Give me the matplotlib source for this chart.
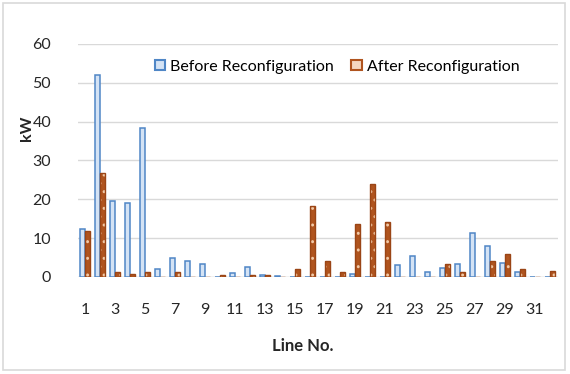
import matplotlib
matplotlib.use("Agg")
import matplotlib.pyplot as plt
import numpy as np
from matplotlib.patches import Rectangle, Patch

lines = list(range(1, 33))
before = [12.3, 52.0, 19.6, 19.0, 38.4, 2.0, 4.8, 4.0, 3.4, 0.0,
          1.1, 2.5, 0.5, 0.3, 0.0, 0.0, 0.0, 0.0, 0.7, 0.0,
          0.0, 3.2, 5.4, 1.4, 2.4, 3.3, 11.4, 8.0, 3.7, 1.4,
          0.0, 0.0]
after = [11.9, 26.8, 1.2, 0.9, 1.4, 0.0, 1.4, 0.0, 0.0, 0.6,
         0.0, 0.5, 0.5, 0.0, 2.0, 18.4, 4.0, 1.4, 13.6, 24.0,
         14.1, 0.0, 0.0, 0.0, 3.3, 1.2, 0.0, 4.0, 5.8, 2.0,
         0.0, 1.6]
xticklabels = [str(i) for i in range(1, 33, 2)]
yticks = [0, 10, 20, 30, 40, 50, 60]

plt.rcParams['font.family'] = ['Lato', 'DejaVu Sans']

W, H = 570, 374
fig = plt.figure(figsize=(W/100, H/100), dpi=100)
fig.patches.append(Rectangle((3/W, 4/H), 562/W, 367/H, transform=fig.transFigure,
                             fill=False, edgecolor='#D9D9D9', linewidth=1.2))
ax = fig.add_axes([77.5/W, 1-277/H, 480/W, 233/H])

x = np.array(lines, dtype=float)
bw = 0.3
blue_edge = '#4F86C6'
blue_face = '#D4E3F5'
brown = '#B0541E'
ax.bar(x - 0.17, before, width=bw, facecolor=blue_face, edgecolor=blue_edge,
       linewidth=1.1, zorder=3)
ax.bar(x + 0.17, after, width=bw, facecolor=brown, edgecolor='#F2C9A6',
       hatch='..', linewidth=0, zorder=3)
ax.bar(x + 0.17, after, width=bw, facecolor='none', edgecolor='#9A4516',
       linewidth=1.0, zorder=4)

h1 = Patch(facecolor=blue_face, edgecolor=blue_edge, linewidth=1.5)
h2 = Patch(facecolor='#F5D7C0', edgecolor='#B0541E', linewidth=1.5)
ax.legend([h1, h2], ['Before Reconfiguration', 'After Reconfiguration'],
          loc='upper left', bbox_to_anchor=(0.148, 0.96), ncol=2, frameon=False,
          fontsize=11.5, handlelength=0.65, handleheight=0.65, handletextpad=0.3,
          columnspacing=1.1, borderaxespad=0)

ax.set_xlim(0.5, 32.5)
ax.set_ylim(0, 60)
ax.set_yticks(yticks)
ax.set_yticklabels([str(v) for v in yticks])
ax.set_xticks(list(range(1, 33, 2)))
ax.set_xticklabels(xticklabels)
ax.tick_params(axis='both', length=0, labelsize=11.5, colors='#262626')
ax.tick_params(axis='y', pad=19)
ax.tick_params(axis='x', pad=19)
ax.grid(axis='y', color='#D9D9D9', linewidth=1.0, zorder=0)
for s in ax.spines.values():
    s.set_visible(False)
ax.axhline(0, color='#D9D9D9', linewidth=1.0, zorder=2)

fig.text(27/W, 1-128/H, 'kW', rotation=90, ha='center', va='center',
         fontsize=11.5, fontweight='bold', color='#262626')
fig.text(303/W, 1-346/H, 'Line No.', ha='center', va='center',
         fontsize=12, fontweight='bold', color='#262626')

fig.savefig('out.png', dpi=100)
